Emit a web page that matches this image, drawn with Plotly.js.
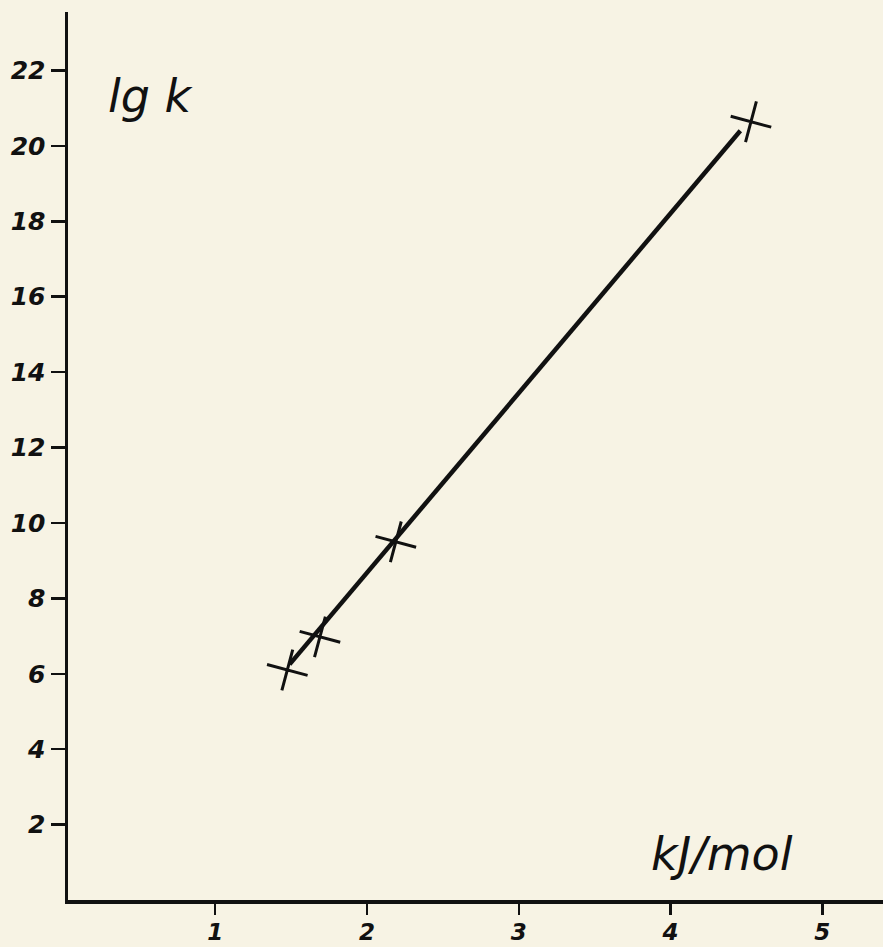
<!DOCTYPE html>
<html>
<head>
<meta charset="utf-8">
<script src="https://cdn.plot.ly/plotly-3.0.1.min.js"></script>
<style>html,body{margin:0;padding:0;background:#f7f3e4;}</style>
</head>
<body>
<div id="chart" style="width:883px;height:947px;"></div>
<script>
// Data
const energy_kJmol = [1.475, 1.69, 2.19, 4.53];
const lg_k = [6.10, 6.98, 9.50, 20.64];
// fitted straight line drawn through the points (endpoints)
const line_x = [1.49, 4.46];
const line_y = [6.25, 20.40];
const xTicks = [1, 2, 3, 4, 5];
const yTicks = [2, 4, 6, 8, 10, 12, 14, 16, 18, 20, 22];

const tickFont = {family: 'DejaVu Sans', size: 25, color: '#111', style: 'italic', weight: 'bold'};
const xTickFont = {family: 'DejaVu Sans', size: 23, color: '#111', style: 'italic', weight: 'bold'};

const traces = [
  {x: line_x, y: line_y, mode: 'lines', line: {color: '#111', width: 4.5}, hoverinfo: 'none', showlegend: false},
  {x: energy_kJmol, y: lg_k, mode: 'markers',
   marker: {symbol: 'cross-thin', size: 30, angle: 15, color: '#111', line: {color: '#111', width: 3}},
   showlegend: false}
];

const layout = {
  width: 883, height: 947,
  margin: {l: 68, r: 0, t: 12, b: 47},
  paper_bgcolor: '#f7f3e4', plot_bgcolor: '#f7f3e4',
  showlegend: false,
  xaxis: {range: [0.03, 5.40], tickvals: xTicks, ticktext: xTicks.map(String),
    ticks: 'outside', ticklen: 11, tickwidth: 2.5, tickcolor: '#111', ticklabelstandoff: -2,
    showline: true, linewidth: 3.5, linecolor: '#111', showgrid: false, zeroline: false,
    tickfont: xTickFont, fixedrange: true},
  yaxis: {range: [0, 23.55], tickvals: yTicks, ticktext: yTicks.map(String),
    ticks: 'outside', ticklen: 14, tickwidth: 2.5, tickcolor: '#111',
    showline: true, linewidth: 3.5, linecolor: '#111', showgrid: false, zeroline: false,
    tickfont: tickFont, fixedrange: true},
  annotations: [
    {text: 'lg k', xref: 'paper', yref: 'paper', x: 0.047, y: 0.905, xanchor: 'left', yanchor: 'middle',
     showarrow: false, font: {family: 'DejaVu Sans', size: 46, color: '#111', style: 'italic'}},
    {text: 'kJ/mol', xref: 'paper', yref: 'paper', x: 0.802, y: 0.052, xanchor: 'center', yanchor: 'middle',
     showarrow: false, font: {family: 'DejaVu Sans', size: 46, color: '#111', style: 'italic'}}
  ]
};

Plotly.newPlot('chart', traces, layout, {displayModeBar: false, staticPlot: true});
</script>
</body>
</html>
